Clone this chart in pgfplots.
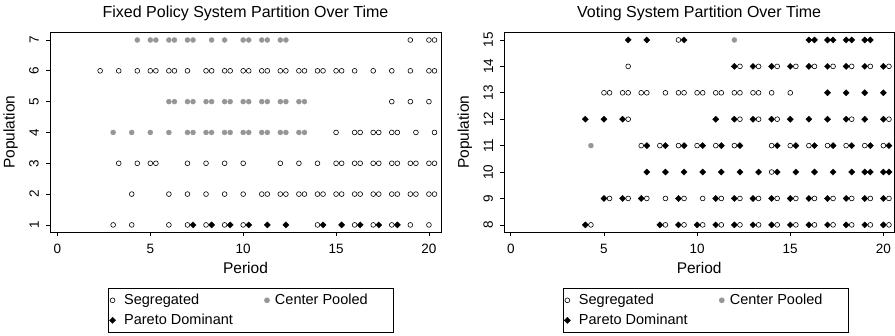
\documentclass[border=0pt]{standalone}
\usepackage{fontspec}
\setmainfont{Liberation Sans}
\usepackage{pgfplots}
\pgfplotsset{compat=1.18}
\definecolor{cpgray}{RGB}{150,150,150}
\pgfplotsset{
  panel/.style={
    scale only axis, height=199.7pt,
    clip=false,
    axis line style={black, line width=0.8pt},
    tick align=outside, xtick pos=bottom, ytick pos=left,
    major tick length=4pt, tick style={black, line width=0.7pt},
    xtick={0,5,10,15,20},
    /pgf/number format/assume math mode=true,
    tick label style={font=\fontsize{13.5}{14}\selectfont},
    yticklabel style={xshift=-7pt, rotate=90, anchor=south, inner sep=0pt},
    xticklabel style={inner sep=0pt, yshift=-8pt},
    xlabel=Period, ylabel=Population,
    every axis x label/.style={font=\fontsize{15.5}{16}\selectfont, at={(axis description cs:0.5,0)}, anchor=north, inner sep=0pt, yshift=-30pt},
    every axis y label/.style={font=\fontsize{15.5}{16}\selectfont, at={(axis description cs:0,0.5)}, xshift=-32pt, rotate=90, anchor=south, inner sep=0pt},
    title style={font=\fontsize{16}{17}\selectfont, at={(0.5,1)}, anchor=south, inner sep=0pt, yshift=5pt},
    legend columns=2,
    legend cell align=left,
    legend style={draw=black, line width=0.6pt, font=\fontsize{14.5}{15.5}\selectfont,
      at={(axis description cs:0.514,0)}, anchor=north, yshift=-56pt,
      inner xsep=1.2pt, inner ysep=4pt, row sep=4pt,
      /tikz/column 1/.append style={column sep=6.5pt},
      /tikz/column 2/.append style={column sep=29.5pt},
      /tikz/column 3/.append style={column sep=3.5pt}},
  },
  seg/.style={only marks, mark=o, mark size=2.4pt, black, mark options={line width=0.6pt}},
  cp/.style={only marks, mark=*, mark size=2.5pt, cpgray, mark options={draw=cpgray, fill=cpgray}},
  pd/.style={only marks, mark=square*, mark size=2.2pt, black, mark options={fill=black, line width=0.3pt, rotate=45}},
}
\begin{document}
\begin{tikzpicture}
\useasboundingbox (0,0) rectangle (895pt,335pt);
% ---------------- Left panel
\begin{axis}[panel, at={(50pt,103pt)}, anchor=south west, width=391pt,
  xmin=-0.4, xmax=20.65, ymin=0.77, ymax=7.25, ytick={1,2,3,4,5,6,7},
  title={Fixed Policy System Partition Over Time}]
\addplot[seg] coordinates {
(3,1)(4,1)(6,1)(7,1)(8,1)(9,1)(10,1)(14,1)(16,1)(17,1)(18,1)(19,1)(20,1)
(4,2)(6,2)(7,2)(8,2)(9,2)(10,2)(11,2)(11.3,2)(12,2)(12.3,2)(13,2)(13.3,2)(14,2)(14.3,2)(15,2)(15.3,2)(16,2)(16.3,2)(17,2)(17.3,2)(18,2)(18.3,2)(19,2)(19.3,2)(20,2)(20.3,2)
(3.3,3)(4.3,3)(5,3)(5.3,3)(7,3)(8,3)(9,3)(10,3)(12,3)(13,3)(14,3)(15,3)(15.3,3)(16,3)(16.3,3)(17,3)(17.3,3)(18,3)(18.3,3)(19,3)(19.3,3)(20,3)(20.3,3)
(15,4)(16,4)(16.3,4)(17,4)(17.3,4)(18,4)(18.3,4)(19.3,4)(20.3,4)
(18,5)(19,5)(20,5)
(2.3,6)(3.3,6)(4.3,6)(5,6)(5.3,6)(6,6)(6.3,6)(7,6)(8,6)(8.3,6)(9,6)(9.3,6)(10,6)(10.3,6)(11,6)(11.3,6)(12,6)(12.3,6)(13,6)(13.3,6)(14,6)(14.3,6)(15,6)(15.3,6)(16,6)(17,6)(18,6)(19,6)(20,6)(20.3,6)
(19,7)(20,7)(20.3,7)
};
\addlegendentry{Segregated}
\addplot[cp] coordinates {
(3,4)(4,4)(5,4)(6,4)(7,4)(7.3,4)(8,4)(8.3,4)(9,4)(9.3,4)(10,4)(10.3,4)(11,4)(11.3,4)(12,4)(12.3,4)(13,4)(13.3,4)
(6,5)(6.3,5)(7,5)(7.3,5)(8,5)(8.3,5)(9,5)(9.3,5)(10,5)(10.3,5)(11,5)(11.3,5)(12,5)(12.3,5)(13,5)(13.3,5)
(4.3,7)(5,7)(5.3,7)(6,7)(6.3,7)(7,7)(7.3,7)(8.3,7)(9,7)(10,7)(10.3,7)(11,7)(11.3,7)(12,7)(12.3,7)
};
\addlegendentry{\makebox[115.5pt][l]{Center Pooled}}
\addplot[pd] coordinates {
(7.3,1)(8.3,1)(9.3,1)(10.3,1)(11.3,1)(12.3,1)(14.3,1)(15.3,1)(16.3,1)(17.3,1)(18.3,1)
};
\addlegendentry{Pareto Dominant}
\end{axis}
% ---------------- Right panel
\begin{axis}[panel, at={(504.3pt,103pt)}, anchor=south west, width=389.7pt,
  xmin=-0.35, xmax=20.57, ymin=7.73, ymax=15.29, ytick={8,9,10,11,12,13,14,15},
  legend style={at={(axis description cs:0.517,0)}},
  title={Voting System Partition Over Time}]
\addplot[seg] coordinates {
(4.3,8)(8.3,8)(9.3,8)(10.3,8)(11.3,8)(12.3,8)(13.3,8)(14.3,8)(15.3,8)(16.3,8)(17.3,8)(18.3,8)(19.3,8)(20.3,8)
(5.3,9)(6.3,9)(7.3,9)(8.3,9)(9.3,9)(10.3,9)(11.3,9)(12.3,9)(13.3,9)(14.3,9)(15.3,9)(16.3,9)(17.3,9)(18.3,9)(19.3,9)(20.3,9)
(14,10)
(7,11)(8,11)(9,11)(10,11)(11,11)(12,11)(14,11)(15,11)(16,11)(17,11)(18,11)(19,11)(20,11)
(6.3,12)(12.3,12)(13.3,12)(14.3,12)(18.3,12)(20.3,12)
(5,13)(5.3,13)(6,13)(6.3,13)(7,13)(7.3,13)(8.3,13)(9,13)(9.3,13)(10,13)(10.3,13)(11,13)(11.3,13)(12,13)(12.3,13)(13,13)(13.3,13)(14,13)(15,13)
(6.3,14)(12.3,14)(13.3,14)(14.3,14)(15.3,14)(16.3,14)(17.3,14)(18.3,14)(19.3,14)(20.3,14)
(9,15)
};
\addlegendentry{Segregated}
\addplot[cp] coordinates {
(4.3,11)(12,15)
};
\addlegendentry{\makebox[115.5pt][l]{Center Pooled}}
\addplot[pd] coordinates {
(4,8)(8,8)(9,8)(10,8)(11,8)(12,8)(13,8)(14,8)(15,8)(16,8)(17,8)(18,8)(19,8)(20,8)
(5,9)(6,9)(7,9)(9,9)(11,9)(12,9)(13,9)(14,9)(15,9)(16,9)(17,9)(18,9)(19,9)(20,9)
(7.3,10)(8.3,10)(9.3,10)(10.3,10)(11.3,10)(12.3,10)(13.3,10)(14.3,10)(15.3,10)(16.3,10)(17.3,10)(18.3,10)(19,10)(19.3,10)(20,10)(20.3,10)
(7.3,11)(8.3,11)(9.3,11)(10.3,11)(11.3,11)(12.3,11)(14.3,11)(15.3,11)(16.3,11)(17.3,11)(18.3,11)(19.3,11)(20.3,11)
(4,12)(5,12)(6,12)(11,12)(12,12)(13,12)(14,12)(15,12)(16,12)(17,12)(18,12)(19,12)(20,12)
(17,13)(18,13)(19,13)(20,13)
(12,14)(13,14)(14,14)(15,14)(16,14)(17,14)(18,14)(19,14)(20,14)
(6.3,15)(7.3,15)(9.3,15)(16,15)(16.3,15)(17,15)(17.3,15)(18,15)(18.3,15)(19,15)(19.3,15)
};
\addlegendentry{Pareto Dominant}
\end{axis}
\end{tikzpicture}
\end{document}
